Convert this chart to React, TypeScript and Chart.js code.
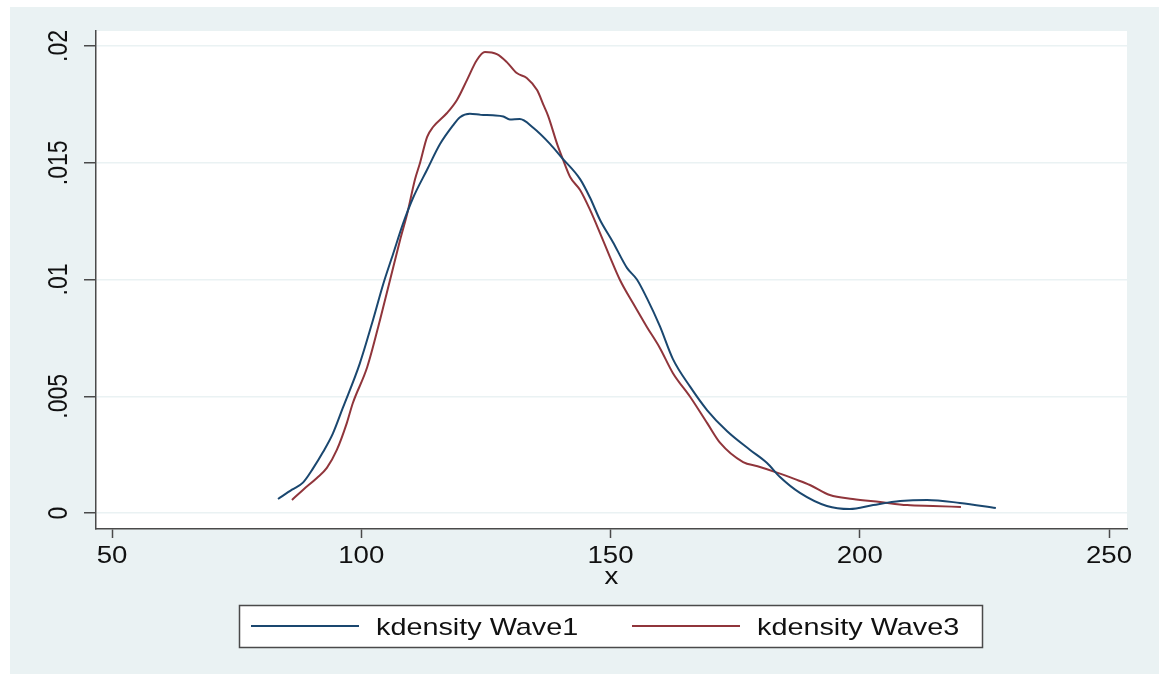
import React, { useEffect, useRef } from "react";
import { Chart, registerables } from "chart.js";

Chart.register(...registerables);

// ---- data ----
const seriesLabels = ["kdensity Wave1", "kdensity Wave3"];

const wave1X = [
  83.3, 86.1, 88.3, 90.3, 92.3, 94.3, 96.3, 99.7, 102.4, 104.4, 106.4, 108.4, 110.4,
  113.2, 115.8, 118.4, 119.8, 121.8, 124.0, 126.4, 128.5, 129.8, 131.8, 134.5, 137.9,
  140.3, 143.9, 145.9, 147.9, 150.5, 153.3, 155.3, 157.3, 159.9, 162.5, 166.0, 169.4,
  173.4, 178.0, 181.4, 184.0, 188.0, 193.4, 198.0, 202.7, 208.1, 213.5, 220.1, 227.3,
];
const wave1Y = [
  0.0006, 0.001, 0.0013, 0.0019, 0.0026, 0.0034, 0.0045, 0.0064, 0.0083, 0.0098, 0.0111,
  0.0124, 0.0135, 0.0147, 0.0158, 0.0166, 0.01695, 0.0171, 0.01705, 0.01703, 0.01698,
  0.01685, 0.01687, 0.0165, 0.0158, 0.0152, 0.0143, 0.0135, 0.01255, 0.0116, 0.0105,
  0.01, 0.0092, 0.008, 0.0066, 0.0054, 0.0044, 0.0035, 0.0027, 0.00214, 0.00154,
  0.00086, 0.0003, 0.00017, 0.00034, 0.00051, 0.00056, 0.00043, 0.00021,
];

const wave3X = [
  86.1, 88.3, 91.1, 93.1, 95.1, 97.1, 98.3, 101.2, 103.8, 105.8, 107.8, 109.2, 110.8,
  111.8, 113.2, 114.4, 117.2, 119.2, 121.2, 123.2, 124.8, 127.2, 129.2, 131.2, 133.2,
  135.3, 136.5, 137.5, 139.3, 140.5, 141.9, 143.9, 145.9, 147.9, 149.9, 151.9, 154.5,
  157.3, 159.9, 162.5, 166.0, 169.4, 172.0, 176.6, 179.5, 183.4, 187.0, 190.0, 194.0,
  198.6, 204.1, 209.5, 214.7, 220.3,
];
const wave3Y = [
  0.00056, 0.00099, 0.0015, 0.00193, 0.0027, 0.00385, 0.0047, 0.00625, 0.0083, 0.01,
  0.0117, 0.0128, 0.0143, 0.015, 0.0161, 0.01653, 0.01713, 0.01769, 0.01854, 0.0194,
  0.01974, 0.01965, 0.01931, 0.01884, 0.01863, 0.0181, 0.0175, 0.017, 0.0158, 0.01512,
  0.01439, 0.01383, 0.01298, 0.01199, 0.01096, 0.00998, 0.00899, 0.00797, 0.00707,
  0.006, 0.00497, 0.00385, 0.003, 0.00218, 0.002, 0.00173, 0.00145, 0.0012, 0.00077,
  0.0006, 0.00047, 0.00034, 0.0003, 0.00026,
];

const xTickValues = [50, 100, 150, 200, 250];
const xTickLabels = ["50", "100", "150", "200", "250"];
const yTickValues = [0, 0.005, 0.01, 0.015, 0.02];
const yTickLabels = ["0", ".005", ".01", ".015", ".02"];
const xTitle = "x";

// ---- styles ----
const BG = "#eaf2f3";
const GRID = "#eaf2f3";
const AXIS = "#4a4a4a";
const TEXT = "#111111";
const COLORS = ["#1a476f", "#90353b"];
const FONT = '23px "Liberation Sans", Arial, sans-serif';
const LEGEND_FONT = '24px "Liberation Sans", Arial, sans-serif';
const STRETCH = 1.2;

const backgroundPlugin = {
  id: "stataBackground",
  beforeDraw(chart: any) {
    const { ctx, width, height, chartArea } = chart;
    ctx.save();
    ctx.fillStyle = "#ffffff";
    ctx.fillRect(0, 0, width, height);
    ctx.fillStyle = BG;
    ctx.fillRect(10, 7, width - 12, height - 7);
    ctx.fillStyle = "#ffffff";
    ctx.fillRect(chartArea.left, chartArea.top, chartArea.right - chartArea.left, chartArea.bottom - chartArea.top);
    ctx.restore();
  },
};

const textPlugin = {
  id: "stataTexts",
  afterDraw(chart: any) {
    const { ctx, chartArea } = chart;
    const xs = chart.scales.x;
    const ys = chart.scales.y;
    ctx.save();
    ctx.fillStyle = TEXT;

    // y tick labels (rotated)
    ctx.font = FONT;
    yTickValues.forEach((v, i) => {
      const py = ys.getPixelForValue(v);
      ctx.save();
      ctx.translate(chartArea.left - 29, py);
      ctx.scale(STRETCH, 1);
      ctx.rotate(-Math.PI / 2);
      ctx.textAlign = "center";
      ctx.textBaseline = "alphabetic";
      ctx.fillText(yTickLabels[i], 0, 0);
      ctx.restore();
    });

    // x tick labels
    xTickValues.forEach((v, i) => {
      const px = xs.getPixelForValue(v);
      ctx.save();
      ctx.translate(px, chartArea.bottom + 34);
      ctx.scale(STRETCH, 1);
      ctx.textAlign = "center";
      ctx.textBaseline = "alphabetic";
      ctx.fillText(xTickLabels[i], 0, 0);
      ctx.restore();
    });

    // x title
    ctx.save();
    ctx.translate((chartArea.left + chartArea.right) / 2, chartArea.bottom + 55);
    ctx.scale(STRETCH, 1);
    ctx.textAlign = "center";
    ctx.fillText(xTitle, 0, 0);
    ctx.restore();

    // legend
    const boxL = 239.5, boxT = 605.5, boxW = 743, boxH = 42;
    ctx.fillStyle = "#ffffff";
    ctx.fillRect(boxL, boxT, boxW, boxH);
    ctx.strokeStyle = AXIS;
    ctx.lineWidth = 1.5;
    ctx.strokeRect(boxL, boxT, boxW, boxH);
    const itemX = [251, 632];
    chart.data.datasets.forEach((ds: any, i: number) => {
      const lx = itemX[i];
      const ly = 626;
      ctx.strokeStyle = ds.borderColor;
      ctx.lineWidth = 2;
      ctx.beginPath();
      ctx.moveTo(lx, ly);
      ctx.lineTo(lx + 108, ly);
      ctx.stroke();
      ctx.save();
      ctx.fillStyle = TEXT;
      ctx.font = LEGEND_FONT;
      ctx.translate(lx + 125, 635);
      ctx.scale(STRETCH, 1);
      ctx.textAlign = "left";
      ctx.textBaseline = "alphabetic";
      ctx.fillText(ds.label, 0, 0);
      ctx.restore();
    });

    ctx.restore();
  },
};

export default function App() {
  const canvasRef = useRef<HTMLCanvasElement | null>(null);

  useEffect(() => {
    document.body.style.margin = "0";
    const canvas = canvasRef.current;
    if (!canvas) return;

    const datasets = [
      { xs: wave1X, ys: wave1Y },
      { xs: wave3X, ys: wave3Y },
    ].map((s, i) => ({
      label: seriesLabels[i],
      data: s.xs.map((x, j) => ({ x, y: s.ys[j] })),
      borderColor: COLORS[i],
      backgroundColor: COLORS[i],
      borderWidth: 2,
      pointRadius: 0,
      fill: false,
      cubicInterpolationMode: "monotone" as const,
    }));

    const chart = new Chart(canvas, {
      type: "line",
      data: { datasets },
      options: {
        animation: false,
        responsive: true,
        maintainAspectRatio: false,
        layout: { padding: { left: 84, top: 31, right: 34, bottom: 136 } },
        plugins: {
          legend: { display: false },
          tooltip: { enabled: false },
        },
        scales: {
          x: {
            type: "linear",
            min: 46.79,
            max: 253.61,
            afterBuildTicks: (scale: any) => {
              scale.ticks = xTickValues.map((v) => ({ value: v }));
            },
            ticks: { display: false },
            grid: {
              drawOnChartArea: false,
              drawTicks: true,
              tickLength: 9,
              tickColor: AXIS,
              tickWidth: 1.5,
            },
            border: { display: true, color: AXIS, width: 1.5 },
          },
          y: {
            type: "linear",
            min: -0.000685,
            max: 0.020642,
            afterBuildTicks: (scale: any) => {
              scale.ticks = yTickValues.map((v) => ({ value: v }));
            },
            ticks: { display: false },
            grid: {
              drawOnChartArea: true,
              color: GRID,
              lineWidth: 1.5,
              drawTicks: true,
              tickLength: 12,
              tickColor: AXIS,
              tickWidth: 1.5,
            },
            border: { display: true, color: AXIS, width: 1.5 },
          },
        },
      },
      plugins: [backgroundPlugin, textPlugin],
    });

    return () => chart.destroy();
  }, []);

  return (
    <div style={{ width: "1161px", height: "674px", position: "relative" }}>
      <canvas ref={canvasRef} />
    </div>
  );
}
